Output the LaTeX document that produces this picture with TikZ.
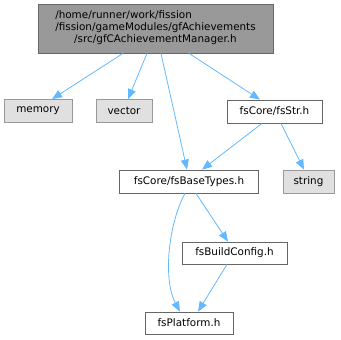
\documentclass[tikz,border=0pt]{standalone}
\usepackage{fontspec}
\setmainfont{DejaVu Sans}
\usetikzlibrary{arrows.meta}
\definecolor{edgeblue}{HTML}{63B8FF}
\definecolor{graybox}{HTML}{E0E0E0}
\definecolor{grayline}{HTML}{999999}
\definecolor{darkline}{HTML}{666666}
\begin{document}
\begin{tikzpicture}[x=1pt,y=-1pt,
  box/.style={draw=darkline,fill=white,line width=0.8pt,inner sep=0pt,minimum height=23pt,font=\fontsize{10.4}{12}\selectfont},
  sysbox/.style={box,draw=grayline,fill=graybox},
  topbox/.style={box,fill=grayline},
  edge/.style={draw=edgeblue,line width=0.8pt,-{Stealth[inset=0pt,length=10pt,width=8pt]}}]
\useasboundingbox (0,0) rectangle (341,340);
\node[topbox,minimum width=235pt,minimum height=49pt] (top) at (155.5,28.5)
  {\begin{tabular}{@{}l@{}}/home/runner/work/fission\\/fission/gameModules/gfAchievements\\\multicolumn{1}{@{}c@{}}{/src/gfCAchievementManager.h}\end{tabular}};
\node[sysbox,minimum width=68pt] (memory) at (38,111) {memory};
\node[sysbox,minimum width=56pt] (vector) at (124,111) {vector};
\node[box,minimum width=95pt] (str) at (274.5,111.5) {fsCore/fsStr.h};
\node[box,minimum width=139pt] (base) at (189,181.5) {fsCore/fsBaseTypes.h};
\node[sysbox,minimum width=51pt] (string) at (308.5,181.5) {string};
\node[box,minimum width=105pt,minimum height=22pt] (build) at (234.5,253) {fsBuildConfig.h};
\node[box,minimum width=88pt,minimum height=22pt] (plat) at (189,323) {fsPlatform.h};
\draw[edge] ([xshift=-32.5pt]top.south) -- ([xshift=14pt]memory.north);
\draw[edge] ([xshift=-8.5pt]top.south) -- ([xshift=4pt]vector.north);
\draw[edge] ([xshift=5.5pt]top.south) -- ([xshift=-2pt]base.north);
\draw[edge] ([xshift=33.5pt]top.south) -- ([xshift=-14.5pt]str.north);
\draw[edge] ([xshift=-12.5pt]str.south) -- ([xshift=13pt]base.north);
\draw[edge] ([xshift=6.5pt]str.south) -- ([xshift=-4.5pt]string.north);
\draw[edge] ([xshift=7pt]base.south) -- ([xshift=-6.5pt]build.north);
\draw[edge] ([xshift=-7.5pt]build.south) -- ([xshift=9pt]plat.north);
\draw[edge] ([xshift=-4pt]base.south) .. controls (168,225) and (163,280) .. ([xshift=-9pt]plat.north);
\end{tikzpicture}
\end{document}
